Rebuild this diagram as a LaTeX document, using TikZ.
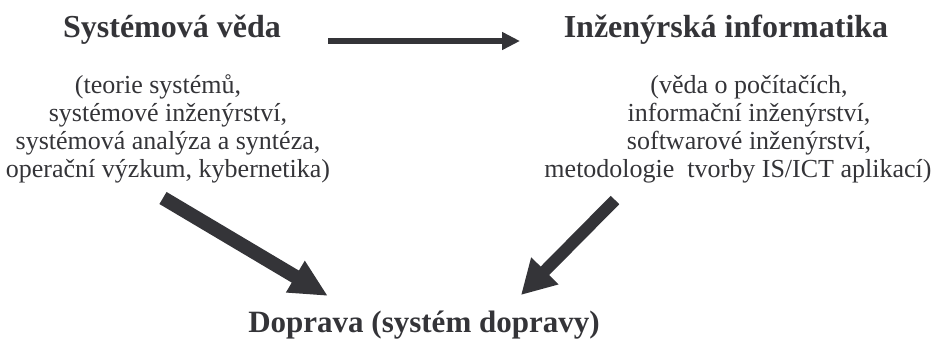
\documentclass[tikz,border=0pt]{standalone}
\usepackage{fontspec}
\setmainfont{Liberation Serif}
\usetikzlibrary{arrows.meta}
\definecolor{ink}{RGB}{52,52,56}
\begin{document}
\begin{tikzpicture}[x=1pt,y=-1pt,
  heading/.style={text=ink,inner sep=0pt,anchor=base,font=\fontsize{32}{36}\selectfont\bfseries},
  topics/.style={text=ink,inner sep=0pt,align=center,font=\fontsize{26}{28}\selectfont},
  flow/.style={draw=ink,line width=6pt,-{Triangle[length=18pt,width=17pt]}},
  feed/.style={draw=ink,line width=14pt,-{Triangle[length=38pt,width=34pt]}},
  feedr/.style={draw=ink,line width=12pt,-{Triangle[length=34pt,width=36pt]}}]
\useasboundingbox (0,0) rectangle (932,338);

% headings
\node[heading] (sv) at (172,37) {Systémová věda};
\node[heading] (ii) at (726,37) {Inženýrská informatika};
\node[heading,font=\fontsize{31}{34}\selectfont\bfseries] (dop) at (424,332) {Doprava (systém dopravy)};

% topic lists
\node[topics] (svl) at (168,129) {(teorie systémů,\hspace*{20pt}\\ systémové inženýrství,\\ systémová analýza a syntéza,\\ operační výzkum, kybernetika)};
\node[topics] (iil) at (738,129) {\hspace*{22pt}(věda o počítačích,\\ \hspace*{22pt}informační inženýrství,\\ \hspace*{22pt}softwarové inženýrství,\\ metodologie\ \ tvorby IS/ICT aplikací)};

% arrow ends
\coordinate (h1) at (328,41);
\coordinate (h2) at (520,41);
\coordinate (l1) at (163,198);
\coordinate (l2) at (328,296);
\coordinate (r1) at (615,200);
\coordinate (r2) at (521,295);

\draw[flow] (h1) -- (h2);
\draw[feed] (l1) -- (l2);
\draw[feedr] (r1) -- (r2);
\end{tikzpicture}
\end{document}
